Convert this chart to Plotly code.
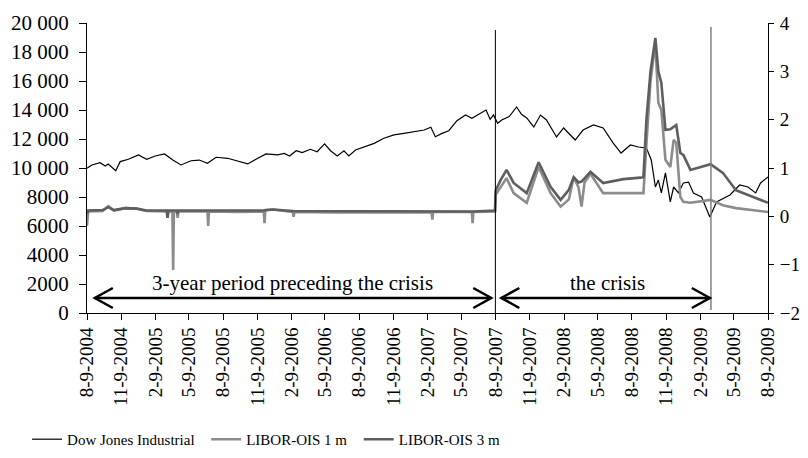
import plotly.graph_objects as go

# ---------------- data ----------------
dow_dates = ["2004-08-09","2004-08-22","2004-09-13","2004-09-27","2004-10-05","2004-10-25",
    "2004-11-06","2004-11-28","2004-12-25","2005-01-16","2005-02-08","2005-03-05","2005-03-27",
    "2005-04-18","2005-05-15","2005-06-06","2005-06-28","2005-07-21","2005-08-21","2005-09-17",
    "2005-10-14","2005-11-10","2005-12-02","2006-01-02","2006-01-20","2006-02-03","2006-02-21",
    "2006-03-09","2006-03-31","2006-04-18","2006-05-08","2006-05-24","2006-06-11","2006-06-29",
    "2006-07-12","2006-07-30","2006-08-22","2006-09-18","2006-10-14","2006-11-10","2006-12-07",
    "2007-01-03","2007-01-30","2007-02-17","2007-03-01","2007-03-19","2007-04-06","2007-04-28",
    "2007-05-21","2007-06-07","2007-06-21","2007-07-15","2007-07-26","2007-08-04","2007-08-15",
    "2007-08-26","2007-09-15","2007-10-05","2007-10-18","2007-11-01","2007-11-20","2007-12-08",
    "2007-12-24","2008-01-20","2008-02-08","2008-02-25","2008-03-10","2008-03-31","2008-04-28",
    "2008-05-24","2008-06-20","2008-07-11","2008-08-05","2008-08-27","2008-09-17","2008-09-30",
    "2008-10-11","2008-10-19","2008-10-27","2008-11-07","2008-11-20","2008-11-29","2008-12-12",
    "2008-12-25","2009-01-08","2009-01-21","2009-02-12","2009-02-23","2009-03-06","2009-03-24",
    "2009-04-10","2009-04-29","2009-05-25","2009-06-16","2009-07-07","2009-07-20","2009-08-09"]
dow_values = [9980,10210,10370,10140,10280,9810,
    10440,10600,10900,10600,10830,10970,10550,
    10210,10500,10550,10320,10740,10670,10500,
    10280,10670,10970,10900,11010,10830,11190,
    11060,11290,11120,11660,11190,10830,11190,
    10830,11240,11470,11700,12050,12280,12390,
    12500,12620,12810,12160,12390,12570,13260,
    13660,13430,13660,14000,13360,13660,13080,
    13310,13550,14210,13700,13450,12830,13650,
    13310,12140,12760,12300,11930,12620,12970,
    12760,11720,11030,11590,11450,11380,10550,
    8690,9170,8280,9660,7660,8690,8280,
    8970,9030,8280,8000,7310,6620,7660,
    7900,8140,8830,8690,8280,8970,9380]

libor_dates = ["2004-08-09","2004-08-12","2004-09-20","2004-10-05","2004-10-20","2004-11-20",
    "2004-12-20","2005-01-15","2005-03-11","2005-03-13","2005-03-15","2005-03-26","2005-03-28",
    "2005-03-30","2005-04-07","2005-04-09","2005-04-11","2005-06-28","2005-06-30","2005-07-02",
    "2005-09-15","2005-11-26","2005-11-28","2005-11-30","2005-12-20","2006-02-12","2006-02-14",
    "2006-02-16","2006-06-01","2006-10-01","2007-02-19","2007-02-21","2007-02-23","2007-06-07",
    "2007-06-09","2007-06-11","2007-08-08","2007-08-10","2007-08-23","2007-09-08","2007-09-27",
    "2007-11-01","2007-12-03","2008-01-04","2008-01-31","2008-02-22","2008-03-06","2008-03-19",
    "2008-03-27","2008-04-04","2008-04-20","2008-05-24","2008-07-17","2008-09-01","2008-09-09",
    "2008-09-17","2008-09-28","2008-10-11","2008-10-19","2008-10-27","2008-11-07","2008-11-20",
    "2008-11-29","2008-12-06","2008-12-17","2008-12-25","2009-01-13","2009-03-08","2009-04-10",
    "2009-05-15","2009-07-07","2009-08-09"]
libor_1m = [-0.20,0.10,0.11,0.21,0.12,0.17,
    0.16,0.11,0.10,-0.03,0.10,0.10,-1.11,
    0.10,0.10,-0.03,0.10,0.10,-0.20,0.10,
    0.09,0.10,-0.14,0.12,0.14,0.09,-0.01,
    0.09,0.08,0.08,0.08,-0.07,0.09,0.09,
    -0.14,0.09,0.10,0.45,0.60,0.79,0.48,
    0.28,1.02,0.48,0.20,0.35,0.81,0.60,
    0.20,0.70,0.88,0.48,0.48,0.47,0.48,
    1.50,2.80,3.60,2.35,2.20,1.17,1.02,
    1.58,1.52,0.40,0.30,0.28,0.34,0.23,
    0.17,0.13,0.09]
libor_3m = [0.05,0.12,0.13,0.19,0.13,0.17,
    0.16,0.12,0.12,-0.03,0.12,0.12,0.12,
    0.12,0.12,0.05,0.12,0.12,0.12,0.12,
    0.11,0.12,0.12,0.13,0.14,0.11,0.11,
    0.11,0.10,0.10,0.10,0.10,0.10,0.10,
    0.10,0.10,0.12,0.54,0.75,0.96,0.69,
    0.48,1.12,0.61,0.34,0.55,0.81,0.70,
    0.72,0.78,0.92,0.69,0.77,0.80,0.81,
    2.00,3.00,3.69,3.00,2.76,1.79,1.80,
    1.85,1.89,1.31,1.27,0.96,1.08,0.90,
    0.54,0.38,0.28]

x_tick_dates = ["2004-08-09","2004-11-09","2005-02-09","2005-05-09","2005-08-09","2005-11-09",
    "2006-02-09","2006-05-09","2006-08-09","2006-11-09","2007-02-09","2007-05-09","2007-08-09",
    "2007-11-09","2008-02-09","2008-05-09","2008-08-09","2008-11-09","2009-02-09","2009-05-09",
    "2009-08-09"]
x_tick_labels = ["8-9-2004","11-9-2004","2-9-2005","5-9-2005","8-9-2005","11-9-2005",
    "2-9-2006","5-9-2006","8-9-2006","11-9-2006","2-9-2007","5-9-2007","8-9-2007",
    "11-9-2007","2-9-2008","5-9-2008","8-9-2008","11-9-2008","2-9-2009","5-9-2009",
    "8-9-2009"]
left_tick_vals = [0,2000,4000,6000,8000,10000,12000,14000,16000,18000,20000]
left_tick_labels = ["0","2000","4000","6000","8000","10 000","12 000","14 000","16 000","18 000","20 000"]
right_tick_vals = [-2,-1,0,1,2,3,4]
right_tick_labels = ["\u22122","\u22121","0","1","2","3","4"]

crisis_start = "2007-08-09"
crisis_end = "2009-03-09"
arrow1 = ["2004-08-30","2007-07-29"]
arrow2 = ["2007-08-25","2009-03-06"]
arrow_y = 1035
label1 = "3-year period preceding the crisis"
label2 = "the crisis"

FONT = "Liberation Serif"

fig = go.Figure()
fig.add_trace(go.Scatter(x=dow_dates, y=dow_values, mode="lines", name="Dow Jones Industrial",
                         line=dict(color="#000000", width=1.2), yaxis="y", legend="legend"))
fig.add_trace(go.Scatter(x=libor_dates, y=libor_1m, mode="lines", name="LIBOR-OIS 1 m",
                         line=dict(color="#8c8c8c", width=2.6), yaxis="y2", legend="legend2"))
fig.add_trace(go.Scatter(x=libor_dates, y=libor_3m, mode="lines", name="LIBOR-OIS 3 m",
                         line=dict(color="#5e5e5e", width=2.6), yaxis="y2", legend="legend3"))

shapes = [
    dict(type="line", xref="x", yref="paper", x0=crisis_start, x1=crisis_start, y0=0, y1=0.976,
         line=dict(color="#000000", width=1)),
    dict(type="line", xref="x", yref="paper", x0=crisis_end, x1=crisis_end, y0=0.01, y1=0.986,
         line=dict(color="#808080", width=1.5)),
]
for a in (arrow1, arrow2):
    shapes.append(dict(type="line", xref="x", yref="y", x0=a[0], x1=a[1], y0=arrow_y, y1=arrow_y,
                       line=dict(color="#000000", width=2.5)))
    shapes.append(dict(type="path", xref="x", yref="y", xsizemode="pixel", ysizemode="pixel",
                       xanchor=a[0], yanchor=arrow_y, path="M 18,10 L 0,0 L 18,-10",
                       line=dict(color="#000000", width=2.5)))
    shapes.append(dict(type="path", xref="x", yref="y", xsizemode="pixel", ysizemode="pixel",
                       xanchor=a[1], yanchor=arrow_y, path="M -18,10 L 0,0 L -18,-10",
                       line=dict(color="#000000", width=2.5)))

annotations = [
    dict(x="2006-02-11", y=2070, xref="x", yref="y", text=label1, showarrow=False,
         font=dict(family=FONT, size=21, color="#000000"), yanchor="middle"),
    dict(x="2008-06-04", y=2070, xref="x", yref="y", text=label2, showarrow=False,
         font=dict(family=FONT, size=21, color="#000000"), yanchor="middle"),
]

legend_style = dict(orientation="h", y=-0.436, xanchor="left", yanchor="middle",
                    font=dict(family=FONT, size=15), bgcolor="rgba(0,0,0,0)")

# the page body has an 8px default margin, so the figure is sized to fit inside the window
fig.update_layout(
    width=792, height=442,
    margin=dict(l=79, r=32, t=15, b=137, autoexpand=False),
    paper_bgcolor="white", plot_bgcolor="white",
    font=dict(family=FONT, size=19, color="#000000"),
    showlegend=True,
    legend=dict(x=-0.088, **legend_style),
    legend2=dict(x=0.175, **legend_style),
    legend3=dict(x=0.399, **legend_style),
    xaxis=dict(type="date", range=["2004-08-09","2009-08-09"], tickmode="array",
               tickvals=x_tick_dates, ticktext=x_tick_labels, tickangle=-90,
               ticks="outside", ticklen=6, tickcolor="#000000", showline=True,
               linecolor="#000000", linewidth=1, showgrid=False, zeroline=False,
               tickfont=dict(family=FONT, size=19), automargin=False),
    yaxis=dict(range=[0,20000], tickmode="array", tickvals=left_tick_vals, ticktext=left_tick_labels,
               ticks="outside", ticklen=7, tickcolor="#000000", showline=True, linecolor="#000000",
               linewidth=1, showgrid=False, zeroline=False, tickfont=dict(family=FONT, size=21),
               ticklabelstandoff=6, automargin=False),
    yaxis2=dict(range=[-2,4], overlaying="y", side="right", tickmode="array",
                tickvals=right_tick_vals, ticktext=right_tick_labels, ticks="outside", ticklen=5,
                tickcolor="#000000", showline=True, linecolor="#000000", linewidth=1,
                showgrid=False, zeroline=False, tickfont=dict(family=FONT, size=19),
                ticklabelstandoff=2, automargin=False),
    shapes=shapes, annotations=annotations,
)

fig.write_html("out.html")
